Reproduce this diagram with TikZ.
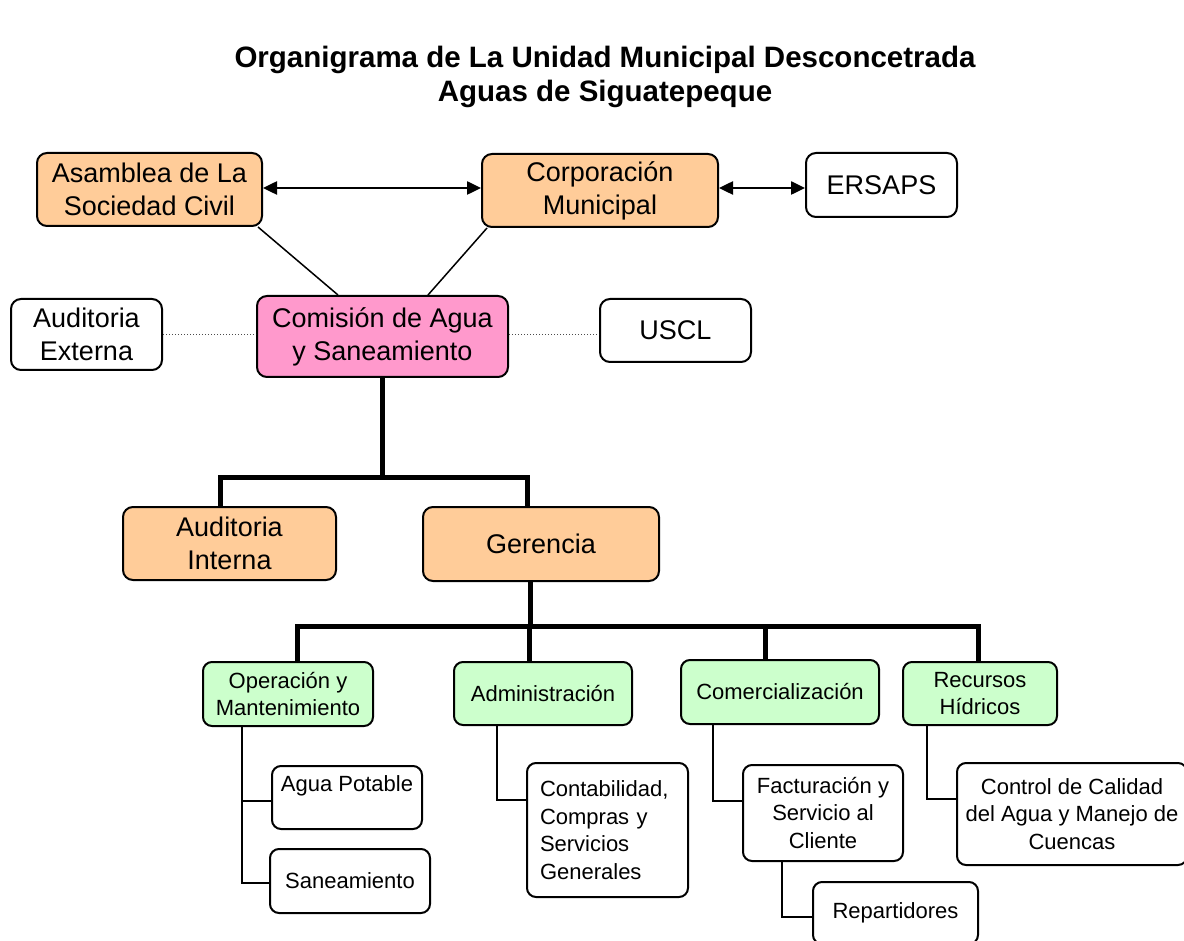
\documentclass[tikz,border=0pt]{standalone}
\usepackage{fontspec}
\setmainfont{Liberation Sans}
\usetikzlibrary{arrows.meta}
\definecolor{peach}{HTML}{FFCC99}
\definecolor{pinkc}{HTML}{FF99CC}
\definecolor{greenc}{HTML}{CCFFCC}
\tikzset{
  bx/.style={draw, line width=2pt, rounded corners=10pt, inner sep=0pt, align=center,
    font=\fontsize{27}{33}\selectfont},
  sbx/.style={bx, rounded corners=9pt, font=\fontsize{22}{27.5}\selectfont},
  trunk/.style={line width=5pt},
  sub/.style={line width=2pt},
  diag/.style={line width=1.5pt},
  dots/.style={line width=1pt, dotted, black!70},
  arr/.style={line width=2.5pt, {Triangle[length=14pt,width=13pt]}-{Triangle[length=14pt,width=13pt]}},
}
\begin{document}
\begin{tikzpicture}[x=1pt,y=-1pt]
\useasboundingbox (0,0) rectangle (1184,941);
% title
\node[font=\bfseries\fontsize{29.5}{34}\selectfont, align=center] (title) at (605,77)
  {Organigrama de La Unidad Municipal Desconcetrada\\Aguas de Siguatepeque};
% top level
\node[bx, fill=peach, minimum width=225pt, minimum height=73pt] (asam) at (149.5,189.5) {Asamblea de La\\Sociedad Civil};
\node[bx, fill=peach, minimum width=236pt, minimum height=73pt] (corp) at (600,190.5) {Corporación\\Municipal};
\node[bx, fill=white, minimum width=151pt, minimum height=64pt] (ersaps) at (881.5,185) {ERSAPS};
\node[bx, fill=white, minimum width=151pt, minimum height=71pt] (audext) at (86.5,334.5) {Auditoria\\Externa};
\node[bx, fill=pinkc, minimum width=251pt, minimum height=81pt] (comis) at (382.5,336.5) {Comisión de Agua\\y Saneamiento};
\node[bx, fill=white, minimum width=151pt, minimum height=63pt] (uscl) at (675.5,330.5) {USCL};
\node[bx, fill=peach, minimum width=213pt, minimum height=73pt] (audint) at (229.5,543.5) {Auditoria\\Interna};
\node[bx, fill=peach, minimum width=236pt, minimum height=74pt] (geren) at (541,544) {Gerencia};
% departments
\node[sbx, fill=greenc, minimum width=170pt, minimum height=64pt] (oper) at (288,694) {Operación y\\Mantenimiento};
\node[sbx, fill=greenc, minimum width=178pt, minimum height=63pt] (admin) at (543,693.5) {Administración};
\node[sbx, fill=greenc, minimum width=198pt, minimum height=64pt] (comer) at (780,692) {Comercialización};
\node[sbx, fill=greenc, minimum width=154pt, minimum height=63pt] (recur) at (980,693.5) {Recursos\\Hídricos};
% sub units
\node[sbx, fill=white, minimum width=150pt, minimum height=63pt] (agua) at (347,797.5) {Agua Potable\\\mbox{}};
\node[sbx, fill=white, minimum width=160pt, minimum height=64pt] (sanea) at (350,881) {Saneamiento};
\node[sbx, fill=white, minimum width=161pt, minimum height=134pt, text width=135pt, align=left] (conta) at (607.5,830)
  {Contabilidad,\\Compras y\\Servicios\\Generales};
\node[sbx, fill=white, minimum width=160pt, minimum height=96pt] (factu) at (823,813) {Facturación y\\Servicio al\\Cliente};
\node[sbx, fill=white, minimum width=165pt, minimum height=62pt] (repar) at (895.5,913) {Repartidores};
\node[sbx, fill=white, minimum width=230pt, minimum height=102pt] (contr) at (1072,814) {Control de Calidad\\del Agua y Manejo de\\Cuencas};
% relations at top
\draw[arr] (asam.east |- 0,188) -- (corp.west |- 0,188);
\draw[arr] (corp.east |- 0,188) -- (ersaps.west |- 0,188);
\draw[diag] ([xshift=-5pt]asam.south east) -- ([xshift=-44.5pt]comis.north);
\draw[diag] ([xshift=6pt]corp.south west) -- ([xshift=45.5pt]comis.north);
\draw[dots] (audext.east) -- (audext.east -| comis.west);
\draw[dots] (comis.east |- uscl.west) ++(0,4.5) -- ([yshift=-4.5pt]uscl.west);
% trunk
\coordinate (j1) at (382,477);
\coordinate (j2) at (530,626);
\draw[trunk] (comis.south -| j1) -- (j1);
\draw[trunk] ([xshift=-9.5pt]audint.north) |- (j1) -| ([xshift=-14pt]geren.north);
\draw[trunk] ([xshift=-11pt]geren.south) -- (j2);
\draw[trunk] ([xshift=9pt]oper.north) |- (j2) -| ([xshift=-2pt]recur.north);
\draw[trunk] ([xshift=-14pt]admin.north) -- ([xshift=-14pt]admin.north |- j2);
\draw[trunk] ([xshift=-15pt]comer.north) -- ([xshift=-15pt]comer.north |- j2);
% sub connectors
\draw[sub] ([xshift=-46pt]oper.south) |- ([yshift=-2pt]sanea.west);
\draw[sub] ([yshift=-3.5pt]agua.west) -- ++(-30,0);
\draw[sub] ([xshift=-46pt]admin.south) |- ([yshift=30pt]conta.west);
\draw[sub] ([xshift=-67pt]comer.south) |- ([yshift=12pt]factu.west);
\draw[sub] ([xshift=-41pt]factu.south) |- ([yshift=-4pt]repar.west);
\draw[sub] ([xshift=-53pt]recur.south) |- ([yshift=15pt]contr.west);
\end{tikzpicture}
\end{document}
